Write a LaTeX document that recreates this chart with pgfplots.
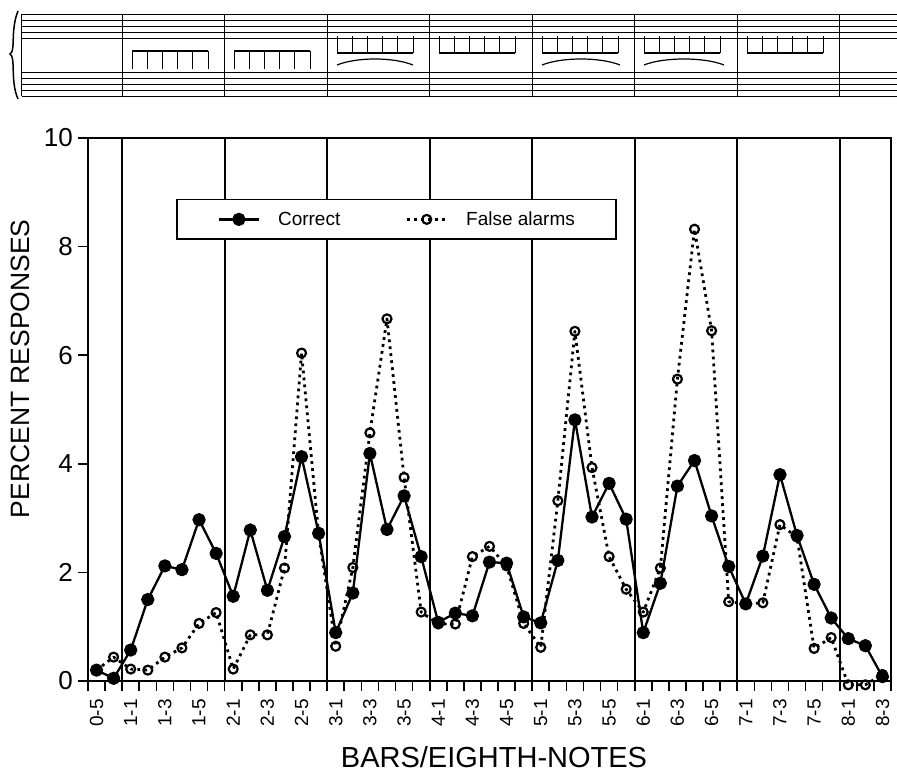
\documentclass[border=0pt]{standalone}
\usepackage{fontspec}
\setmainfont{Liberation Sans}
\usepackage{pgfplots}
\pgfplotsset{compat=1.18}
\begin{document}
\begin{tikzpicture}
\useasboundingbox (-88pt,-93pt) rectangle (809pt,681pt);
% decorative score excerpt above the chart
\begin{scope}[line width=0.8pt]
  \foreach \y in {667,661,655,649,643,609,603,597,591,585}
    \draw (-66pt,\y pt) -- (809pt,\y pt);
  \draw[line width=1pt] (-66pt,585pt) -- (-66pt,667pt);
  \draw[line width=1.5pt] (-70pt,670pt) .. controls (-78pt,650pt) and (-72pt,630pt) .. (-78pt,627pt)
        .. controls (-72pt,624pt) and (-78pt,600pt) .. (-70pt,582pt);
  \foreach \x in {34.2,136.7,239.2,341.7,444.3,546.8,649.3,751.8}
    \draw (\x pt,585pt) -- (\x pt,667pt);
  % lower-voice beams below the treble staff, with stems
  \foreach \a in {249,351,454,556,659}
    {\draw[line width=2pt] (\a pt,628pt) -- (\a pt+76pt,628pt);
     \foreach \k in {0,1,...,5} \draw (\a pt+15.2*\k pt,628pt) -- (\a pt+15.2*\k pt,645pt);}
  % upper-voice beams above the bass staff, with stems
  \foreach \a in {44,146}
    {\draw[line width=2pt] (\a pt,630pt) -- (\a pt+76pt,630pt);
     \foreach \k in {0,1,...,5} \draw (\a pt+15.2*\k pt,630pt) -- (\a pt+15.2*\k pt,612pt);}
  \foreach \a/\b in {249/325,454/532,556/636}
    {\draw[line width=1.2pt] (\a pt,616pt) .. controls (\a pt+20pt,624pt) and (\b pt-20pt,624pt) .. (\b pt,616pt);}
\end{scope}
\begin{axis}[
  at={(0pt,0pt)}, anchor=south west,
  scale only axis, width=803pt, height=543pt,
  xmin=-0.5, xmax=46.5, ymin=0, ymax=10,
  clip=false,
  axis line style={line width=2.3pt},
  tick align=outside,
  tick pos=left,
  major tick length=10pt,
  tick style={black, line width=1.6pt},
  xtick={-0.5,0.5,...,46.5},
  xticklabels={},
  extra x ticks={0,2,...,46},
  extra x tick labels={0-5,1-1,1-3,1-5,2-1,2-3,2-5,3-1,3-3,3-5,4-1,4-3,4-5,5-1,5-3,5-5,6-1,6-3,6-5,7-1,7-3,7-5,8-1,8-3},
  extra x tick style={major tick length=0pt},
  xticklabel style={rotate=90, anchor=east, font=\fontsize{19}{21}\selectfont, inner sep=0pt, xshift=-18pt},
  ytick={0,2,...,10},
  yticklabel style={font=\fontsize{26}{30}\selectfont, inner sep=5pt},
  /pgf/number format/assume math mode=true,
  xlabel={BARS/EIGHTH-NOTES},
  xlabel style={at={(axis description cs:0.5056,-0.140)}, anchor=center, font=\fontsize{29}{32}\selectfont},
  ylabel={PERCENT RESPONSES},
  ylabel style={at={(axis description cs:-0.0847,0.575)}, anchor=center, font=\fontsize{26.5}{30}\selectfont},
  legend columns=-1,
  reverse legend,
  legend image code/.code={\draw[mark repeat=2,mark phase=2] plot coordinates {(0pt,0pt) (20pt,0pt) (40pt,0pt)};},
  legend style={at={(axis description cs:0.1096,0.8877)}, anchor=north west,
    draw=black, line width=1.5pt, fill=white, inner xsep=41pt, inner ysep=12pt,
    font=\fontsize{19}{22}\selectfont, nodes={inner sep=0pt},
    /tikz/every odd column/.append style={column sep=18pt},
    /tikz/every even column/.append style={column sep=65pt}},
]
\pgfplotsinvokeforeach{1.5,7.5,13.5,19.5,25.5,31.5,37.5,43.5}{
  \draw[line width=2pt] (axis cs:#1,0) -- (axis cs:#1,10);
}
\addplot[black, line width=2.8pt, line join=round, dash pattern=on 2.8pt off 4.2pt, mark=o, mark size=4.5pt,
  mark options={solid, line width=2.2pt, fill=white}] coordinates {
(0,0.20) (1,0.44) (2,0.22) (3,0.20) (4,0.44) (5,0.61) (6,1.06) (7,1.26)
(8,0.22) (9,0.85) (10,0.85) (11,2.08) (12,6.04) (13,2.70) (14,0.64)
(15,2.09) (16,4.57) (17,6.67) (18,3.75) (19,1.27) (20,1.05) (21,1.05)
(22,2.29) (23,2.48) (24,2.12) (25,1.06) (26,0.62) (27,3.32) (28,6.44)
(29,3.93) (30,2.29) (31,1.69) (32,1.27) (33,2.08) (34,5.56) (35,8.32)
(36,6.45) (37,1.46) (38,1.42) (39,1.44) (40,2.88) (41,2.65) (42,0.60)
(43,0.80) (44,-0.07) (45,-0.07) (46,0.12)
};
\addlegendentry{False alarms}
\addplot[black, line width=2.3pt, line join=round, mark=*, mark size=5.5pt, mark options={solid}] coordinates {
(0,0.20) (1,0.05) (2,0.57) (3,1.50) (4,2.12) (5,2.05) (6,2.97) (7,2.35)
(8,1.56) (9,2.78) (10,1.67) (11,2.66) (12,4.13) (13,2.72) (14,0.89)
(15,1.62) (16,4.19) (17,2.79) (18,3.41) (19,2.29) (20,1.08) (21,1.25)
(22,1.20) (23,2.19) (24,2.17) (25,1.18) (26,1.07) (27,2.22) (28,4.81)
(29,3.02) (30,3.64) (31,2.98) (32,0.89) (33,1.80) (34,3.59) (35,4.06)
(36,3.04) (37,2.11) (38,1.42) (39,2.30) (40,3.80) (41,2.68) (42,1.78)
(43,1.16) (44,0.78) (45,0.65) (46,0.08)
};
\addlegendentry{Correct}
\end{axis}
\end{tikzpicture}
\end{document}
